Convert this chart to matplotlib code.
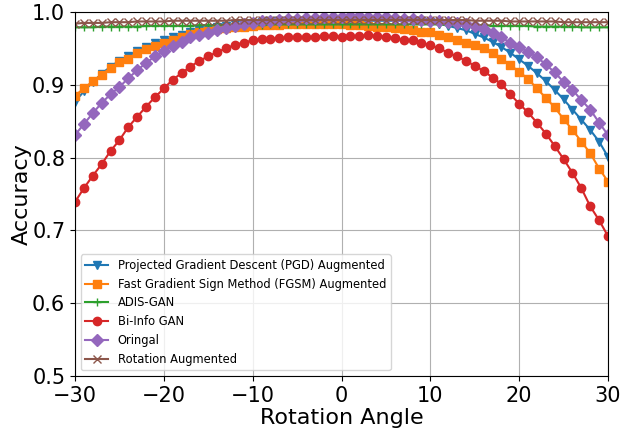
import matplotlib
matplotlib.use('Agg')
import matplotlib.pyplot as plt
import numpy as np

# rotation angles, one point per degree
angles = np.arange(-30, 31)

pgd = [0.877, 0.891, 0.904, 0.915, 0.925, 0.933, 0.940, 0.946, 0.952, 0.957,
       0.961, 0.965, 0.969, 0.972, 0.975, 0.977, 0.979, 0.981, 0.983, 0.984,
       0.985, 0.986, 0.987, 0.987, 0.988, 0.988, 0.988, 0.988, 0.988, 0.988,
       0.988, 0.988, 0.988, 0.988, 0.988, 0.988, 0.988, 0.988, 0.988, 0.987,
       0.986, 0.984, 0.981, 0.978, 0.975, 0.970, 0.965, 0.959, 0.952, 0.944,
       0.935, 0.926, 0.916, 0.905, 0.893, 0.880, 0.866, 0.852, 0.838, 0.822,
       0.801]

fgsm = [0.885, 0.895, 0.905, 0.914, 0.923, 0.931, 0.936, 0.943, 0.949, 0.953,
        0.958, 0.962, 0.966, 0.970, 0.972, 0.974, 0.976, 0.978, 0.979, 0.980,
        0.981, 0.982, 0.982, 0.982, 0.983, 0.983, 0.983, 0.983, 0.983, 0.983,
        0.983, 0.982, 0.982, 0.981, 0.980, 0.979, 0.978, 0.977, 0.975, 0.973,
        0.972, 0.969, 0.966, 0.962, 0.958, 0.955, 0.950, 0.943, 0.936, 0.927,
        0.918, 0.908, 0.895, 0.882, 0.869, 0.853, 0.838, 0.822, 0.806, 0.785,
        0.767]

adis = [0.979, 0.979, 0.979, 0.980, 0.980, 0.980, 0.980, 0.980, 0.981, 0.981,
        0.981, 0.981, 0.981, 0.981, 0.982, 0.982, 0.982, 0.982, 0.982, 0.982,
        0.982, 0.982, 0.983, 0.983, 0.983, 0.983, 0.983, 0.983, 0.983, 0.983,
        0.983, 0.983, 0.983, 0.983, 0.983, 0.983, 0.983, 0.983, 0.983, 0.983,
        0.983, 0.983, 0.982, 0.982, 0.982, 0.982, 0.982, 0.981, 0.981, 0.981,
        0.981, 0.981, 0.980, 0.980, 0.980, 0.980, 0.980, 0.979, 0.979, 0.979,
        0.979]

biinfo = [0.739, 0.758, 0.775, 0.791, 0.809, 0.824, 0.842, 0.856, 0.870, 0.883,
          0.895, 0.907, 0.916, 0.925, 0.933, 0.939, 0.945, 0.950, 0.955, 0.958,
          0.961, 0.963, 0.963, 0.964, 0.965, 0.965, 0.966, 0.966, 0.967, 0.967,
          0.966, 0.967, 0.967, 0.968, 0.967, 0.966, 0.964, 0.962, 0.961, 0.958,
          0.954, 0.950, 0.944, 0.939, 0.933, 0.926, 0.919, 0.910, 0.901, 0.887,
          0.874, 0.862, 0.848, 0.833, 0.816, 0.798, 0.779, 0.758, 0.733, 0.714,
          0.692]

original = [0.831, 0.846, 0.861, 0.875, 0.887, 0.897, 0.909, 0.920, 0.930, 0.939,
            0.946, 0.953, 0.959, 0.965, 0.968, 0.971, 0.975, 0.978, 0.981, 0.983,
            0.985, 0.987, 0.988, 0.989, 0.990, 0.991, 0.992, 0.992, 0.993, 0.993,
            0.993, 0.994, 0.994, 0.993, 0.993, 0.993, 0.992, 0.991, 0.990, 0.989,
            0.988, 0.987, 0.986, 0.985, 0.984, 0.981, 0.977, 0.971, 0.965, 0.958,
            0.952, 0.945, 0.938, 0.928, 0.917, 0.904, 0.893, 0.879, 0.866, 0.848,
            0.831]

rotation = [0.984, 0.985, 0.985, 0.985, 0.986, 0.986, 0.986, 0.987, 0.987, 0.987,
            0.987, 0.988, 0.988, 0.988, 0.988, 0.988, 0.988, 0.988, 0.989, 0.989,
            0.989, 0.989, 0.989, 0.989, 0.989, 0.989, 0.989, 0.989, 0.989, 0.989,
            0.989, 0.989, 0.989, 0.989, 0.989, 0.989, 0.989, 0.989, 0.989, 0.989,
            0.989, 0.989, 0.989, 0.989, 0.989, 0.988, 0.988, 0.988, 0.988, 0.987,
            0.987, 0.987, 0.987, 0.987, 0.987, 0.986, 0.986, 0.986, 0.986, 0.986,
            0.986]

series = [
    ('Projected Gradient Descent (PGD) Augmented', pgd, 'v'),
    ('Fast Gradient Sign Method (FGSM) Augmented', fgsm, 's'),
    ('ADIS-GAN', adis, '+'),
    ('Bi-Info GAN', biinfo, 'o'),
    ('Oringal', original, 'D'),
    ('Rotation Augmented', rotation, 'x'),
]

fig = plt.figure(figsize=(6.36, 4.28), dpi=100)
ax = fig.add_axes([75 / 636, 52 / 428, 533 / 636, 364 / 428])

for label, vals, marker in series:
    ax.plot(angles, vals, marker=marker, markersize=6, linewidth=1.5, label=label)

ax.set_xlim(-30, 30)
ax.set_ylim(0.5, 1.0)
ax.set_xticks([-30, -20, -10, 0, 10, 20, 30])
ax.set_yticks([0.5, 0.6, 0.7, 0.8, 0.9, 1.0])
ax.tick_params(labelsize=15)
ax.set_xlabel('Rotation Angle', fontsize=16, labelpad=2)
ax.set_ylabel('Accuracy', fontsize=16, labelpad=0)
ax.grid(True, color='#b0b0b0', linewidth=0.8)
ax.legend(loc='lower left', fontsize=8.3, framealpha=0.8)

fig.savefig('out.png', dpi=100)
